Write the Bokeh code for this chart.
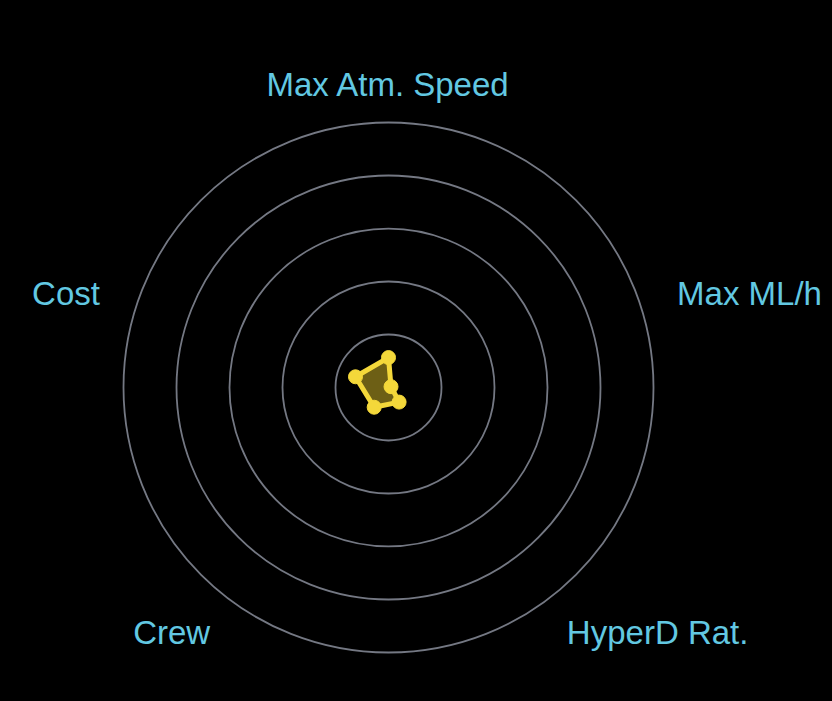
import math
from bokeh.plotting import figure
from bokeh.models import Range1d, ColumnDataSource
from bokeh.core.properties import value
from bokeh.embed import file_html
from bokeh.resources import INLINE

# ---- data ----
axes_labels = ["Max Atm. Speed", "Max ML/h", "HyperD Rat.", "Crew", "Cost"]
values = [11.3, 1.0, 6.8, 9.2, 13.1]
ring_levels = [20, 40, 60, 80, 100]
label_radius = 114.5

# ---- geometry helpers ----
n = len(axes_labels)
angles = [math.pi / 2 - 2 * math.pi * i / n for i in range(n)]

W, H = 832, 701
ppu = 2.65  # pixels per value unit
cx_px, cy_px = 388, 387  # centre within figure (pixels from left/top)

p = figure(width=W, height=H, output_backend="svg", toolbar_location=None,
           x_range=Range1d(-cx_px / ppu, (W - cx_px) / ppu),
           y_range=Range1d(-(H - cy_px) / ppu, cy_px / ppu),
           min_border=0, background_fill_color="black",
           border_fill_color="black", outline_line_color=None)
p.axis.visible = False
p.grid.visible = False

# rings
p.circle(x=[0] * len(ring_levels), y=[0] * len(ring_levels), radius=ring_levels,
         fill_alpha=0, line_color="#747883", line_width=1.8)

# labels
lx, ly, align = [], [], []
for a in angles:
    lx.append(label_radius * math.cos(a))
    ly.append(label_radius * math.sin(a))
    c = math.cos(a)
    align.append("center" if abs(c) < 0.1 else ("left" if c > 0 else "right"))
src = ColumnDataSource(dict(x=lx, y=ly, t=axes_labels, al=align))
p.text(x="x", y="y", text="t", text_align="al", text_baseline="middle",
       source=src, text_color="#62c8e2", text_font=value("Liberation Sans"),
       text_font_size="33px")

# data polygon
px = [v * math.cos(a) for v, a in zip(values, angles)]
py = [v * math.sin(a) for v, a in zip(values, angles)]
p.patch(px + [px[0]], py + [py[0]], fill_color="#f2d22e", fill_alpha=0.45,
        line_color="#f4d83a", line_width=5, line_join="round")
p.scatter(px, py, size=14, fill_color="#f4d83a", line_color="#f4d83a")

html = file_html(p, INLINE)
html = html.replace("</head>", "<style>html,body{background:#000;}</style></head>", 1)
open("out.html", "w").write(html)
